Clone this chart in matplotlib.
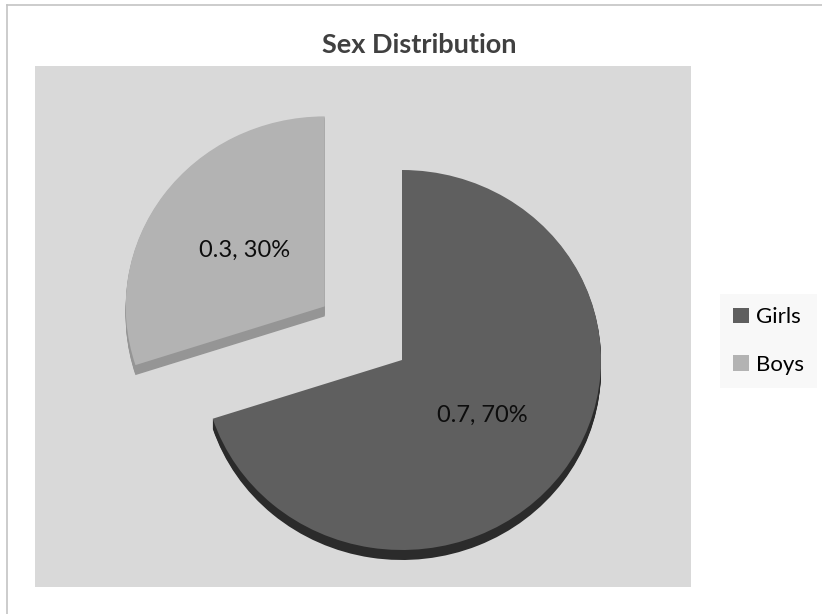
import numpy as np
import matplotlib.pyplot as plt
from matplotlib.patches import Rectangle

plt.rcParams['font.family'] = ['Lato', 'DejaVu Sans']

labels = ['Girls', 'Boys']
shares = [0.7, 0.3]
top_colors = ['#5f5f5f', '#b3b3b3']
side_colors = ['#2b2b2b', '#959595']
explode = [0, 0.48]

W, H = 822, 614
fig = plt.figure(figsize=(W / 100, H / 100), dpi=100)
fig.patch.set_facecolor('white')

# pixel-space layer for the frame, plot area and title
bg = fig.add_axes([0, 0, 1, 1])
bg.set_xlim(0, W)
bg.set_ylim(H, 0)
bg.axis('off')
bg.plot([7, 7], [H, 5], color='#c4c4c4', lw=1.2)
bg.plot([7, W], [5, 5], color='#c4c4c4', lw=1.2)
left, right, top, bottom = 35, 691, 66, 587
bg.add_patch(Rectangle((left, top), right - left, bottom - top,
                       facecolor='#d9d9d9', edgecolor='none'))
bg.text(419, 45, 'Sex Distribution', ha='center', va='center',
        fontsize=19.5, fontweight='bold', color='#404040')

# tilted pie: unit circle squashed into an ellipse by the axes limits
rx, ry = 199, 190
cx, cy = 402, 360
ax = fig.add_axes([left / W, 1 - bottom / H, (right - left) / W, (bottom - top) / H])
ax.patch.set_visible(False)

depth = 10 / ry
for d in np.linspace(depth, depth / 10, 10):
    ax.pie(shares, colors=side_colors, explode=explode, startangle=90,
           counterclock=False, center=(0, -d),
           wedgeprops=dict(linewidth=0))
wedges, _ = ax.pie(shares, colors=top_colors, explode=explode, startangle=90,
                   counterclock=False, wedgeprops=dict(linewidth=0))

ax.set_aspect('auto')
ax.set_xlim(-(cx - left) / rx, (right - cx) / rx)
ax.set_ylim(-(bottom - cy) / ry, (cy - top) / ry)
ax.axis('off')

total = sum(shares)
for w, v in zip(wedges, shares):
    mid = np.deg2rad((w.theta1 + w.theta2) / 2)
    x0, y0 = w.center
    ax.text(x0 + 0.5 * np.cos(mid), y0 + 0.5 * np.sin(mid),
            f'{v}, {v / total:.0%}', ha='center', va='center',
            fontsize=17, color='#0d0d0d')

leg = ax.legend(wedges, labels, loc='center left',
                bbox_to_anchor=(720 / W, 1 - 341 / H), bbox_transform=fig.transFigure,
                fontsize=16, handlelength=0.7, handleheight=0.7, handletextpad=0.3,
                labelspacing=1.25, borderpad=0.6, borderaxespad=0,
                frameon=True, fancybox=False, framealpha=1)
leg.get_frame().set_facecolor('#f8f8f8')
leg.get_frame().set_edgecolor('none')

fig.savefig('out.png', dpi=100, facecolor='white')
